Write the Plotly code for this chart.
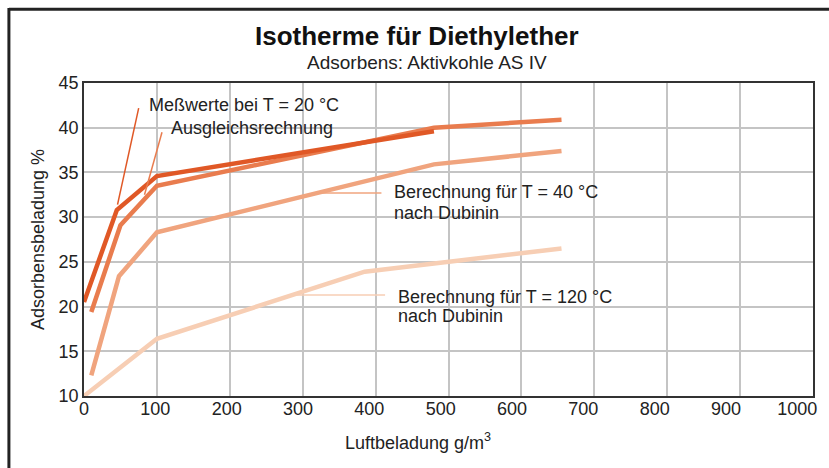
import plotly.graph_objects as go

# --- data ---
x_mess20 = [0, 45, 100, 480]
y_mess20 = [20.5, 30.8, 34.6, 39.6]

x_ausgl = [10, 50, 100, 480, 655]
y_ausgl = [19.4, 29.1, 33.5, 40.0, 40.9]

x_ber40 = [10, 48, 100, 480, 655]
y_ber40 = [12.3, 23.4, 28.3, 35.9, 37.4]

x_ber120 = [0, 100, 385, 655]
y_ber120 = [10.0, 16.4, 23.9, 26.5]

x_ticks = [0, 100, 200, 300, 400, 500, 600, 700, 800, 900, 1000]
y_ticks = [10, 15, 20, 25, 30, 35, 40, 45]

# leader lines for labels
lead_mess_x = [46, 75]
lead_mess_y = [31.4, 42.2]
lead_ausgl_x = [83, 107]
lead_ausgl_y = [32.5, 39.5]
lead_40_x = [323, 408]
lead_40_y = [32.7, 32.7]
lead_120_x = [286, 413]
lead_120_y = [21.3, 21.3]

c1 = "rgb(224,88,38)"
c2 = "rgb(233,124,78)"
c3 = "rgb(240,164,126)"
c4 = "rgb(247,206,180)"

FONT = "Liberation Sans, Arial, sans-serif"

fig = go.Figure()
for xs, ys, c in [(x_ber120, y_ber120, c4), (x_ber40, y_ber40, c3),
                  (x_ausgl, y_ausgl, c2), (x_mess20, y_mess20, c1)]:
    fig.add_trace(go.Scatter(x=xs, y=ys, mode="lines",
                             line=dict(color=c, width=4.5), showlegend=False,
                             hoverinfo="skip"))
for xs, ys, c in [(lead_mess_x, lead_mess_y, c1), (lead_ausgl_x, lead_ausgl_y, c2),
                  (lead_40_x, lead_40_y, c3), (lead_120_x, lead_120_y, c4)]:
    fig.add_trace(go.Scatter(x=xs, y=ys, mode="lines",
                             line=dict(color=c, width=1.5), showlegend=False,
                             hoverinfo="skip"))
# invisible trace carrying the (slightly compressed) tick-label axis
fig.add_trace(go.Scatter(x=x_ticks, y=[None] * len(x_ticks), xaxis="x2",
                         mode="lines", showlegend=False, hoverinfo="skip"))

ann = [
    dict(x=86, y=42.5, text="Meßwerte bei T = 20 °C"),
    dict(x=116, y=40.0, text="Ausgleichsrechnung"),
    dict(x=422, y=32.8, text="Berechnung für T = 40 °C"),
    dict(x=422, y=30.5, text="nach Dubinin"),
    dict(x=428, y=21.1, text="Berechnung für T = 120 °C"),
    dict(x=428, y=19.0, text="nach Dubinin"),
]
annotations = []
for a in ann:
    annotations.append(dict(x=a["x"], y=a["y"], xref="x", yref="y", text=a["text"],
                            showarrow=False, xanchor="left", yanchor="middle",
                            align="left", font=dict(family=FONT, size=18, color="#222")))

annotations.append(dict(x=0.457, y=1.150, xref="paper", yref="paper",
                        text="<b>Isotherme für Diethylether</b>", showarrow=False,
                        xanchor="center", yanchor="middle",
                        font=dict(family=FONT, size=26, color="#111")))
annotations.append(dict(x=0.47, y=1.067, xref="paper", yref="paper",
                        text="Adsorbens: Aktivkohle AS IV", showarrow=False,
                        xanchor="center", yanchor="middle",
                        font=dict(family=FONT, size=19, color="#222")))
annotations.append(dict(x=0.458, y=-0.145, xref="paper", yref="paper",
                        text="Luftbeladung g/m<sup>3</sup>", showarrow=False,
                        xanchor="center", yanchor="middle",
                        font=dict(family=FONT, size=18, color="#222")))

fig.update_layout(
    width=829, height=468,
    margin=dict(l=84, r=14, t=83, b=72),
    paper_bgcolor="white", plot_bgcolor="white",
    font=dict(family=FONT, size=18, color="#222"),
    annotations=annotations,
    shapes=[
        dict(type="line", xref="paper", yref="paper", x0=-0.103, x1=1.03,
             y0=1.236, y1=1.236, line=dict(color="#222", width=3)),
        dict(type="line", xref="paper", yref="paper", x0=-0.103, x1=-0.103,
             y0=1.24, y1=-0.3, line=dict(color="#222", width=3)),
    ],
    xaxis=dict(range=[0, 1000], tickvals=x_ticks, showticklabels=False,
               showgrid=True, gridcolor="#c4c4c4", gridwidth=1.5,
               showline=True, linecolor="#333", linewidth=1.5, mirror=True,
               ticks="", zeroline=False),
    xaxis2=dict(range=[0, 1022], overlaying="x", side="bottom", anchor="y",
                tickvals=x_ticks, ticktext=[str(v) for v in x_ticks],
                showgrid=False, showline=False, zeroline=False, ticks="",
                tickfont=dict(size=18), ticklabeloverflow="allow"),
    yaxis=dict(range=[10, 45], tickvals=y_ticks, ticktext=[str(v) for v in y_ticks],
               showgrid=True, gridcolor="#c4c4c4", gridwidth=1.5,
               showline=True, linecolor="#333", linewidth=1.5, mirror=True,
               ticks="", zeroline=False, tickfont=dict(size=18),
               title=dict(text="Adsorbensbeladung %", standoff=9,
                          font=dict(size=18))),
)

fig.write_html(
    "out.html",
    config={"displayModeBar": False},
    post_script=("document.documentElement.style.margin='0px';"
                 "document.documentElement.style.overflow='hidden';"
                 "document.body.style.margin='0px';"
                 "document.body.style.overflow='hidden';"),
)
